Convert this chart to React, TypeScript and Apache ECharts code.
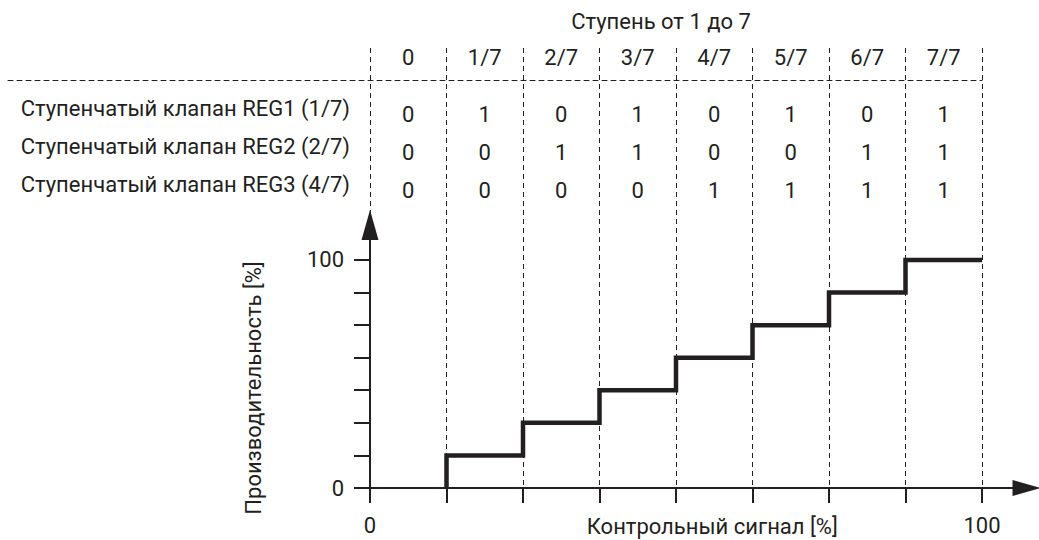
import React, { useEffect, useRef } from 'react';
import * as echarts from 'echarts';

// ---- data ----
const STEP_NAMES = ['0', '1/7', '2/7', '3/7', '4/7', '5/7', '6/7', '7/7'];
const SIGNAL_TICKS = [0, 12.5, 25, 37.5, 50, 62.5, 75, 87.5, 100];
const SIGNAL_BREAKS = [12.5, 25, 37.5, 50, 62.5, 75, 87.5, 100];
const CAPACITY = [0, 14.3, 28.6, 42.9, 57.1, 71.4, 85.7, 100];
const CAPACITY_TICKS = [0, 14.3, 28.6, 42.9, 57.1, 71.4, 85.7, 100];
const X_LABELS = [0, 100];
const Y_LABELS = [0, 100];
const VALVES = [
  'Ступенчатый клапан REG1 (1/7)',
  'Ступенчатый клапан REG2 (2/7)',
  'Ступенчатый клапан REG3 (4/7)',
];
const REG1 = [0, 1, 0, 1, 0, 1, 0, 1];
const REG2 = [0, 0, 1, 1, 0, 0, 1, 1];
const REG3 = [0, 0, 0, 0, 1, 1, 1, 1];
const TITLE = 'Ступень от 1 до 7';
const X_NAME = 'Контрольный сигнал [%]';
const Y_NAME = 'Производительность [%]';

// ---- style ----
const INK = '#231f20';
const FONT = "Roboto, 'Liberation Sans', sans-serif";
const FS = 22;

const COLUMN_CENTERS = SIGNAL_TICKS.slice(0, -1).map((t, i) => (t + SIGNAL_TICKS[i + 1]) / 2);
const REG_ROWS = [REG1, REG2, REG3];

const txt = { color: INK, fontSize: FS, fontFamily: FONT };

function buildOption() {
  const tableData: any[] = [];
  REG_ROWS.forEach((row, r) => {
    row.forEach((v, c) => tableData.push([COLUMN_CENTERS[c], VALVES[r], v]));
  });
  return {
    animation: false,
    backgroundColor: '#ffffff',
    textStyle: { fontFamily: FONT },
    grid: [
      { left: 370, top: 48, width: 612, height: 440, outerBoundsMode: 'none' },
      { left: 370, top: 225, width: 656.5, height: 263, outerBoundsMode: 'none' },
      { left: 8, top: 89, width: 974, height: 114, outerBoundsMode: 'none' },
    ],
    xAxis: [
      {
        gridIndex: 0, type: 'value', min: 0, max: 100, interval: 12.5,
        axisLine: { show: false }, axisTick: { show: false }, axisLabel: { show: false },
        splitLine: { show: true, lineStyle: { color: INK, width: 1, type: [5, 4] } },
      },
      {
        gridIndex: 1, type: 'value', min: 0, max: 107.27,
        axisLine: {
          show: true, onZero: false, symbol: ['none', 'triangle'], symbolSize: [16, 28],
          lineStyle: { color: INK, width: 2 },
        },
        axisTick: { show: true, length: 15, customValues: SIGNAL_TICKS, lineStyle: { color: INK, width: 2 } },
        axisLabel: { ...txt, customValues: X_LABELS, margin: 26 },
        splitLine: { show: false },
        name: X_NAME, nameLocation: 'middle', nameGap: 27, nameMoveOverlap: false,
        nameTextStyle: { ...txt, padding: [0, 0, 0, 28] },
      },
      {
        gridIndex: 2, type: 'value', min: -59.15, max: 100, position: 'top', offset: 9,
        axisLine: { show: true, lineStyle: { color: INK, width: 1, type: [5, 4] } },
        axisTick: { show: false },
        axisLabel: {
          ...txt, margin: 12, customValues: COLUMN_CENTERS,
          formatter: (v: number) => STEP_NAMES[COLUMN_CENTERS.indexOf(v)] ?? '',
        },
        splitLine: { show: false },
      },
    ],
    yAxis: [
      { gridIndex: 0, type: 'value', min: 0, max: 1, show: false },
      {
        gridIndex: 1, type: 'value', min: 0, max: 115.35,
        axisLine: {
          show: true, onZero: false, symbol: ['none', 'triangle'], symbolSize: [17, 30],
          lineStyle: { color: INK, width: 2 },
        },
        axisTick: { show: true, length: 16, customValues: CAPACITY_TICKS, lineStyle: { color: INK, width: 2 } },
        axisLabel: { ...txt, customValues: Y_LABELS, margin: 26 },
        splitLine: { show: false },
      },
      {
        gridIndex: 2, type: 'category', data: VALVES, inverse: true, offset: -362,
        axisLine: { show: false }, axisTick: { show: false },
        axisLabel: { ...txt, margin: 20 },
        splitLine: { show: false },
      },
    ],
    graphic: [
      {
        type: 'text', x: 661, y: 21,
        style: { text: TITLE, fill: INK, fontSize: FS, fontFamily: FONT, textAlign: 'center', textVerticalAlign: 'middle' },
      },
      {
        type: 'text', x: 253, y: 388, rotation: Math.PI / 2,
        style: { text: Y_NAME, fill: INK, fontSize: FS, fontFamily: FONT, textAlign: 'center', textVerticalAlign: 'middle' },
      },
    ],
    series: [
      {
        type: 'line', xAxisIndex: 1, yAxisIndex: 1, step: 'start', silent: true,
        data: SIGNAL_BREAKS.map((x, i) => [x, CAPACITY[i]]),
        symbol: 'none', clip: false,
        lineStyle: { color: INK, width: 4.5, cap: 'butt', join: 'miter' },
        z: 5,
      },
      {
        type: 'scatter', xAxisIndex: 2, yAxisIndex: 2, silent: true,
        data: tableData, symbolSize: 0,
        itemStyle: { color: 'transparent', opacity: 1 },
        label: {
          show: true, position: 'inside', offset: [0, 6], ...txt, opacity: 1,
          textBorderWidth: 0,
          formatter: (p: any) => String(p.value[2]),
        },
      },
    ],
  };
}

export default function App() {
  const ref = useRef<HTMLDivElement>(null);
  useEffect(() => {
    const chart = echarts.init(ref.current!, null, { renderer: 'svg' });
    chart.setOption(buildOption() as any);
    return () => chart.dispose();
  }, []);
  return (
    <div
      ref={ref}
      style={{ position: 'fixed', left: 0, top: 0, width: '1039px', height: '540px', background: '#fff' }}
    />
  );
}
